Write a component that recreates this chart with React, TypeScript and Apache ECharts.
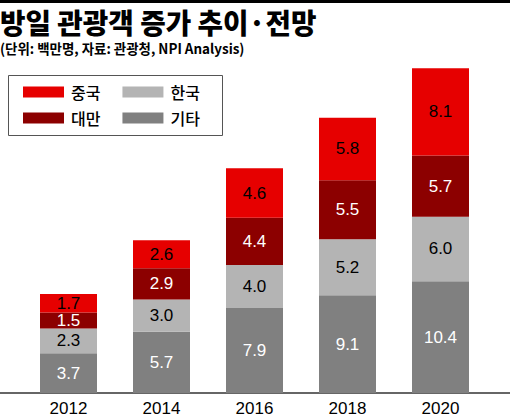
import React, { useEffect, useRef } from "react";
import * as echarts from "echarts";

const years = ["2012", "2014", "2016", "2018", "2020"];
const etc = [3.7, 5.7, 7.9, 9.1, 10.4];
const korea = [2.3, 3.0, 4.0, 5.2, 6.0];
const taiwan = [1.5, 2.9, 4.4, 5.5, 5.7];
const china = [1.7, 2.6, 4.6, 5.8, 8.1];

const NUM = '"Liberation Sans", Arial, sans-serif';
const KR = '"Noto Sans CJK KR", sans-serif';

export default function App() {
  const ref = useRef<HTMLDivElement>(null);
  useEffect(() => {
    const chart = echarts.init(ref.current!, null, { renderer: "svg" });
    const mk = (name: string, data: number[], color: string, labelColor: string) => ({
      name,
      type: "bar",
      stack: "total",
      data,
      barWidth: 57,
      itemStyle: { color },
      label: {
        show: true,
        position: "inside",
        color: labelColor,
        fontFamily: NUM,
        fontSize: 17,
        formatter: (p: any) => p.value.toFixed(1),
      },
    });
    const legendBase = {
      left: 23,
      padding: 0,
      icon: "rect",
      itemWidth: 41,
      itemHeight: 11,
      itemGap: 22,
      textStyle: { fontFamily: KR, fontSize: 16, fontWeight: 500, color: "#000", padding: [0, 0, 0, 2] },
    };
    chart.setOption({
      animation: false,
      grid: { left: 22, right: 23, top: 49, bottom: 25 },
      xAxis: {
        type: "category",
        data: years,
        axisLine: { show: false },
        axisTick: { show: false },
        axisLabel: { color: "#000", fontFamily: NUM, fontSize: 17, margin: 7 },
      },
      yAxis: { type: "value", min: 0, max: 32, show: false, splitLine: { show: false } },
      legend: [
        { ...legendBase, data: ["중국", "한국"], top: 84 },
        { ...legendBase, data: ["대만", "기타"], top: 110 },
      ],
      graphic: [
        { type: "rect", shape: { x: 0, y: 0, width: 510, height: 3 }, style: { fill: "#000" } },
        {
          type: "text",
          x: 0,
          y: 22,
          scaleX: 0.99,
          style: {
            text: "방일 관광객 증가 추이·전망",
            font: `900 28px ${KR}`,
            fill: "#000",
            textVerticalAlign: "middle",
          },
        },
        {
          type: "text",
          x: 0,
          y: 48,
          scaleX: 0.96,
          style: {
            text: "(단위: 백만명, 자료: 관광청, NPI Analysis)",
            font: `bold 14px ${KR}`,
            fill: "#000",
            textVerticalAlign: "middle",
          },
        },
        {
          type: "rect",
          shape: { x: 8.5, y: 75.5, width: 214, height: 60 },
          style: { fill: "none", stroke: "#555", lineWidth: 1 },
        },
        {
          type: "line",
          shape: { x1: 0, y1: 393, x2: 510, y2: 393 },
          style: { stroke: "#333", lineWidth: 1.5 },
        },
      ],
      series: [
        mk("기타", etc, "#808080", "#fff"),
        mk("한국", korea, "#b4b4b4", "#000"),
        mk("대만", taiwan, "#8c0000", "#fff"),
        mk("중국", china, "#e60000", "#000"),
      ],
    });
    return () => chart.dispose();
  }, []);
  return (
    <div
      ref={ref}
      style={{ position: "absolute", left: 0, top: 0, width: 510, height: 418, background: "#fff" }}
    />
  );
}
